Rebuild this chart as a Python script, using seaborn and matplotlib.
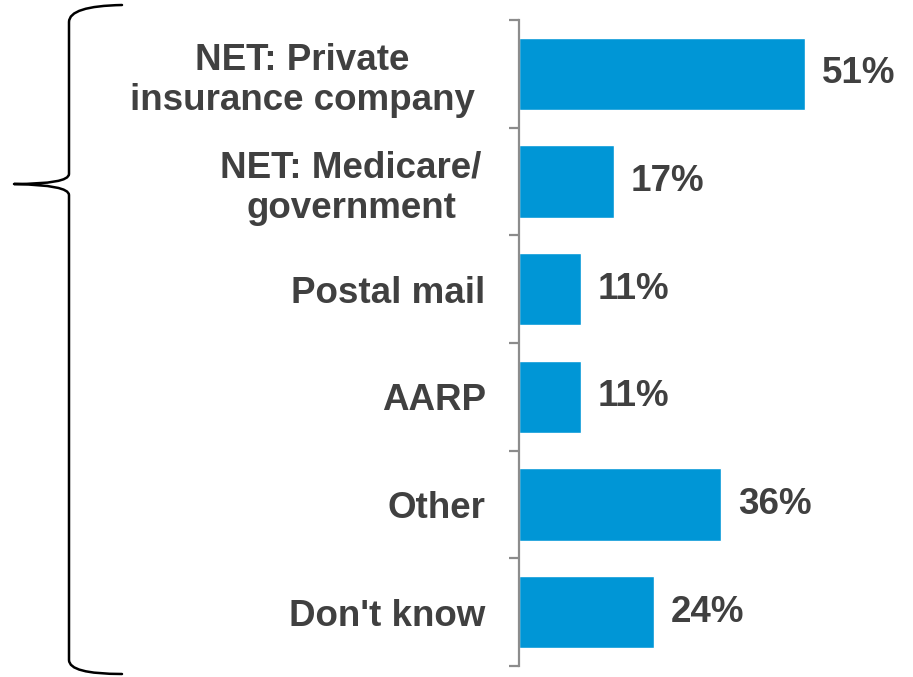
import matplotlib
matplotlib.use("Agg")
import matplotlib.pyplot as plt
from matplotlib.path import Path
from matplotlib.patches import PathPatch
from matplotlib.ticker import FixedLocator, NullFormatter
from matplotlib.transforms import ScaledTranslation
import seaborn as sns
import pandas as pd

categories = [
    "NET: Private\ninsurance company",
    "NET: Medicare/\ngovernment",
    "Postal mail",
    "AARP",
    "Other",
    "Don't know",
]
values = [51, 17, 11, 11, 36, 24]
value_labels = [f"{v}%" for v in values]

BLUE = "#0096D6"
TEXT = "#404040"
AXIS = "#8C8C8C"

sns.set_theme(style="white")
plt.rcParams["font.family"] = ["Liberation Sans", "DejaVu Sans"]

W, H = 913, 677
fig = plt.figure(figsize=(W / 100, H / 100), dpi=100)
ax = fig.add_axes([519 / W, 11 / H, 394 / W, 646 / H])

df = pd.DataFrame({"category": categories, "value": values})
sns.barplot(data=df, x="value", y="category", orient="h", color=BLUE,
            saturation=1, width=0.67, ax=ax)

ax.set_xlim(0, 70.2)
ax.set_ylim(len(categories) - 0.5, -0.5)
ax.set_xlabel("")
ax.set_ylabel("")
ax.set_xticks([])

for s in ["top", "right", "bottom"]:
    ax.spines[s].set_visible(False)
ax.spines["left"].set_color(AXIS)
ax.spines["left"].set_linewidth(1.6)

# category boundaries get the tick marks, labels sit on the bar centres
ax.yaxis.set_minor_locator(FixedLocator([i - 0.5 for i in range(len(categories) + 1)]))
ax.yaxis.set_minor_formatter(NullFormatter())
ax.tick_params(axis="y", which="minor", length=7.5, width=1.6, color=AXIS,
               direction="out", left=True)
ax.tick_params(axis="y", which="major", length=0, pad=24)

# wrapped labels sit a little further left, centred within their block
label_shift = [-11, -4, 0, 0, 0, 0]
for lbl, dx in zip(ax.get_yticklabels(), label_shift):
    lbl.set_fontsize(26.5)
    lbl.set_fontweight("bold")
    lbl.set_color(TEXT)
    lbl.set_multialignment("center")
    if dx:
        lbl.set_transform(lbl.get_transform()
                          + ScaledTranslation(dx / 100, 0, fig.dpi_scale_trans))

for i, (v, t) in enumerate(zip(values, value_labels)):
    ax.annotate(t, xy=(v, i), xytext=(12, 0), textcoords="offset points",
                ha="left", va="center", fontsize=26.5, fontweight="bold",
                color=TEXT)

# curly brace grouping all rows, drawn in figure pixel space
def px(x, y):
    return (x / W, 1 - y / H)

verts = [
    px(122, 5), px(69, 6), px(69, 22),
    px(69, 174),
    px(69, 184), px(14, 184),
    px(69, 185), px(69, 195),
    px(69, 660),
    px(69, 674), px(122, 674),
]
codes = [
    Path.MOVETO, Path.CURVE3, Path.CURVE3,
    Path.LINETO,
    Path.CURVE3, Path.CURVE3,
    Path.CURVE3, Path.CURVE3,
    Path.LINETO,
    Path.CURVE3, Path.CURVE3,
]
brace = PathPatch(Path(verts, codes), transform=fig.transFigure,
                  facecolor="none", edgecolor="black", linewidth=1.8,
                  capstyle="round", joinstyle="round")
fig.patches.append(brace)

fig.savefig("out.png", dpi=100)
